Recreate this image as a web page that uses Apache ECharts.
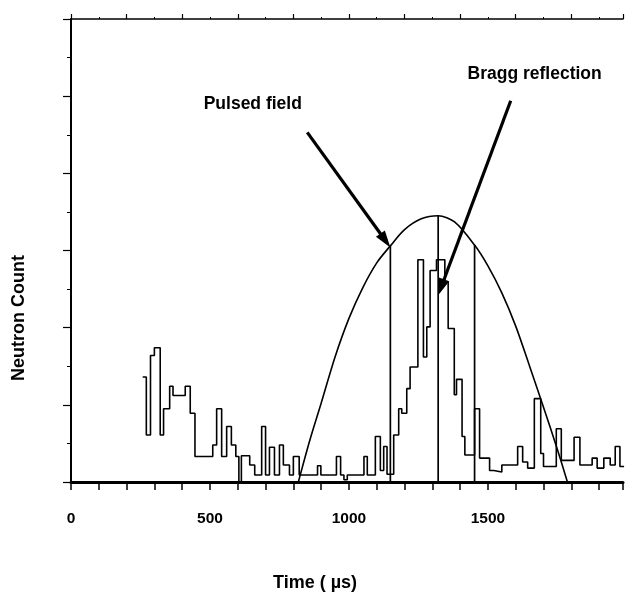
<!DOCTYPE html>
<html>
<head>
<meta charset="utf-8">
<script src="https://cdn.jsdelivr.net/npm/echarts@6/dist/echarts.min.js"></script>
<style>
html,body{margin:0;padding:0;background:#fff;}
#c{width:626px;height:594px;}
</style>
</head>
<body>
<div id="c"></div>
<script>
// Histogram (step outline): bin left edges (µs) and neutron counts (arbitrary units)
const histEdges = [258,271,286,300,321,333,355,367,411,429,446,510,524,542,560,577,593,604,613,643,661,686,700,714,732,750,764,786,800,821,887,899,955,970,982,994,1054,1066,1095,1113,1125,1137,1161,1179,1190,1208,1220,1248,1268,1280,1292,1315,1345,1357,1379,1387,1407,1417,1452,1470,1506,1521,1550,1607,1625,1643,1667,1690,1700,1746,1764,1810,1831,1875,1893,1917,1940,1958,1975,1990];
const histCounts = [1.36,0.61,1.64,1.74,0.61,0.95,1.24,1.12,1.24,0.89,0.33,0.48,0.95,0.33,0.72,0.48,0.33,0,0.34,0.22,0.09,0.72,0.09,0.45,0.09,0.48,0.22,0.09,0.33,0.09,0.21,0.09,0.33,0.09,0.03,0.09,0.33,0.09,0.59,0.15,0.46,0.1,0.61,0.95,0.89,1.21,1.49,2.88,1.62,2.01,2.74,2.88,2.59,1.99,1.13,1.33,0.59,0.35,0.95,0.31,0.15,0.13,0.22,0.46,0.26,0.18,1.08,0.37,0.2,0.69,0.28,0.58,0.22,0.31,0.18,0.31,0.22,0.46,0.2];
// Pulsed-field envelope
const envT = [818,860,900,950,1000,1050,1100,1149,1200,1260,1321,1380,1452,1500,1550,1600,1650,1700,1750,1786];
const envV = [0,0.55,1.02,1.62,2.12,2.52,2.84,3.06,3.27,3.41,3.45,3.37,3.07,2.80,2.45,2.02,1.50,0.97,0.42,0];
// Vertical pulse marker lines
const pulseT = [1149,1321,1452];
const pulseTop = [3.06,3.45,3.07];
// Annotations: label text/position and arrow start/end (data units)
const noteText = ['Pulsed field','Bragg reflection'];
const noteAt = [[654,4.89],[1668,5.29]];
const arrowFrom = [[850,4.53],[1582,4.94]];
const arrowTo = [[1149,3.04],[1321,2.42]];
const xMax = 1986, yMax = 6;
const xLabels = [0,500,1000,1500];

const FONT = '"Liberation Sans", Arial, sans-serif';
const chart = echarts.init(document.getElementById('c'), null, {renderer:'canvas'});

const histData = histCounts.map((v,i)=>[histEdges[i], v]);
histData.push([histEdges[histEdges.length-1], histCounts[histCounts.length-1]]);

const series = [
  {type:'line', step:'end', data:histData, symbol:'none', lineStyle:{color:'#000', width:1.6}, silent:true, z:3},
  {type:'line', smooth:0.3, data:envT.map((t,i)=>[t,envV[i]]), symbol:'none', lineStyle:{color:'#000', width:1.6}, silent:true, z:3}
];
pulseT.forEach((t,i)=>{
  series.push({type:'line', data:[[t,0],[t,pulseTop[i]]], symbol:'none', lineStyle:{color:'#000', width:1.7}, silent:true, z:3});
});
// arrows
series.push({
  type:'custom', silent:true, z:6,
  data: arrowFrom.map((f,i)=>[f[0],f[1],arrowTo[i][0],arrowTo[i][1]]),
  renderItem:(params, api)=>{
    const p1 = api.coord([api.value(0), api.value(1)]);
    const p2 = api.coord([api.value(2), api.value(3)]);
    const dx = p2[0]-p1[0], dy = p2[1]-p1[1];
    const L = Math.sqrt(dx*dx+dy*dy), ux = dx/L, uy = dy/L;
    const hl = 17, hw = 5.5;
    const bx = p2[0]-ux*hl, by = p2[1]-uy*hl;
    return {type:'group', children:[
      {type:'line', shape:{x1:p1[0], y1:p1[1], x2:bx+ux*2, y2:by+uy*2}, style:{stroke:'#000', lineWidth:3.2}},
      {type:'polygon', shape:{points:[[p2[0],p2[1]],[bx-uy*hw, by+ux*hw],[bx+uy*hw, by-ux*hw]]}, style:{fill:'#000'}}
    ]};
  }
});

chart.setOption({
  animation:false,
  backgroundColor:'#fff',
  grid:{left:71, right:0, top:19, bottom:112, containLabel:false},
  xAxis:[
    {type:'value', min:0, max:xMax, interval:100, position:'bottom',
     axisLine:{show:true, lineStyle:{color:'#000', width:3}},
     axisTick:{show:true, length:8, lineStyle:{color:'#000', width:1.5}},
     axisLabel:{margin:29, color:'#000', fontFamily:FONT, fontWeight:'bold', fontSize:15.5,
       formatter:v=> xLabels.indexOf(v)>=0 ? String(v) : ''},
     splitLine:{show:false}},
    {type:'value', min:0, max:xMax, interval:200, position:'top',
     axisLine:{show:true, lineStyle:{color:'#000', width:1.5}},
     axisTick:{show:true, length:5, lineStyle:{color:'#000', width:1.2}},
     minorTick:{show:true, splitNumber:2, length:2, lineStyle:{color:'#000', width:1}},
     axisLabel:{show:false}, splitLine:{show:false}}
  ],
  yAxis:{type:'value', min:0, max:yMax, interval:1,
     axisLine:{show:true, lineStyle:{color:'#000', width:2}},
     axisTick:{show:true, length:8, lineStyle:{color:'#000', width:1.2}},
     minorTick:{show:true, splitNumber:2, length:4, lineStyle:{color:'#000', width:1}},
     axisLabel:{show:false}, splitLine:{show:false}},
  series:series
});

// Titles and annotation labels as text, annotation positions from data coordinates
const g = [
  {type:'text', x:315, y:583, style:{text:'Time ( µs)', font:'bold 18px "Liberation Sans", Arial, sans-serif', fill:'#000', align:'center', verticalAlign:'middle'}},
  {type:'text', x:19, y:318, rotation:Math.PI/2, style:{text:'Neutron Count', font:'bold 18px "Liberation Sans", Arial, sans-serif', fill:'#000', align:'center', verticalAlign:'middle'}}
];
noteText.forEach((s,i)=>{
  const p = chart.convertToPixel({xAxisIndex:0, yAxisIndex:0}, noteAt[i]);
  g.push({type:'text', x:p[0], y:p[1], style:{text:s, font:'bold 17.5px "Liberation Sans", Arial, sans-serif', fill:'#000', align:'center', verticalAlign:'middle'}});
});
chart.setOption({graphic:g});
</script>
</body>
</html>
